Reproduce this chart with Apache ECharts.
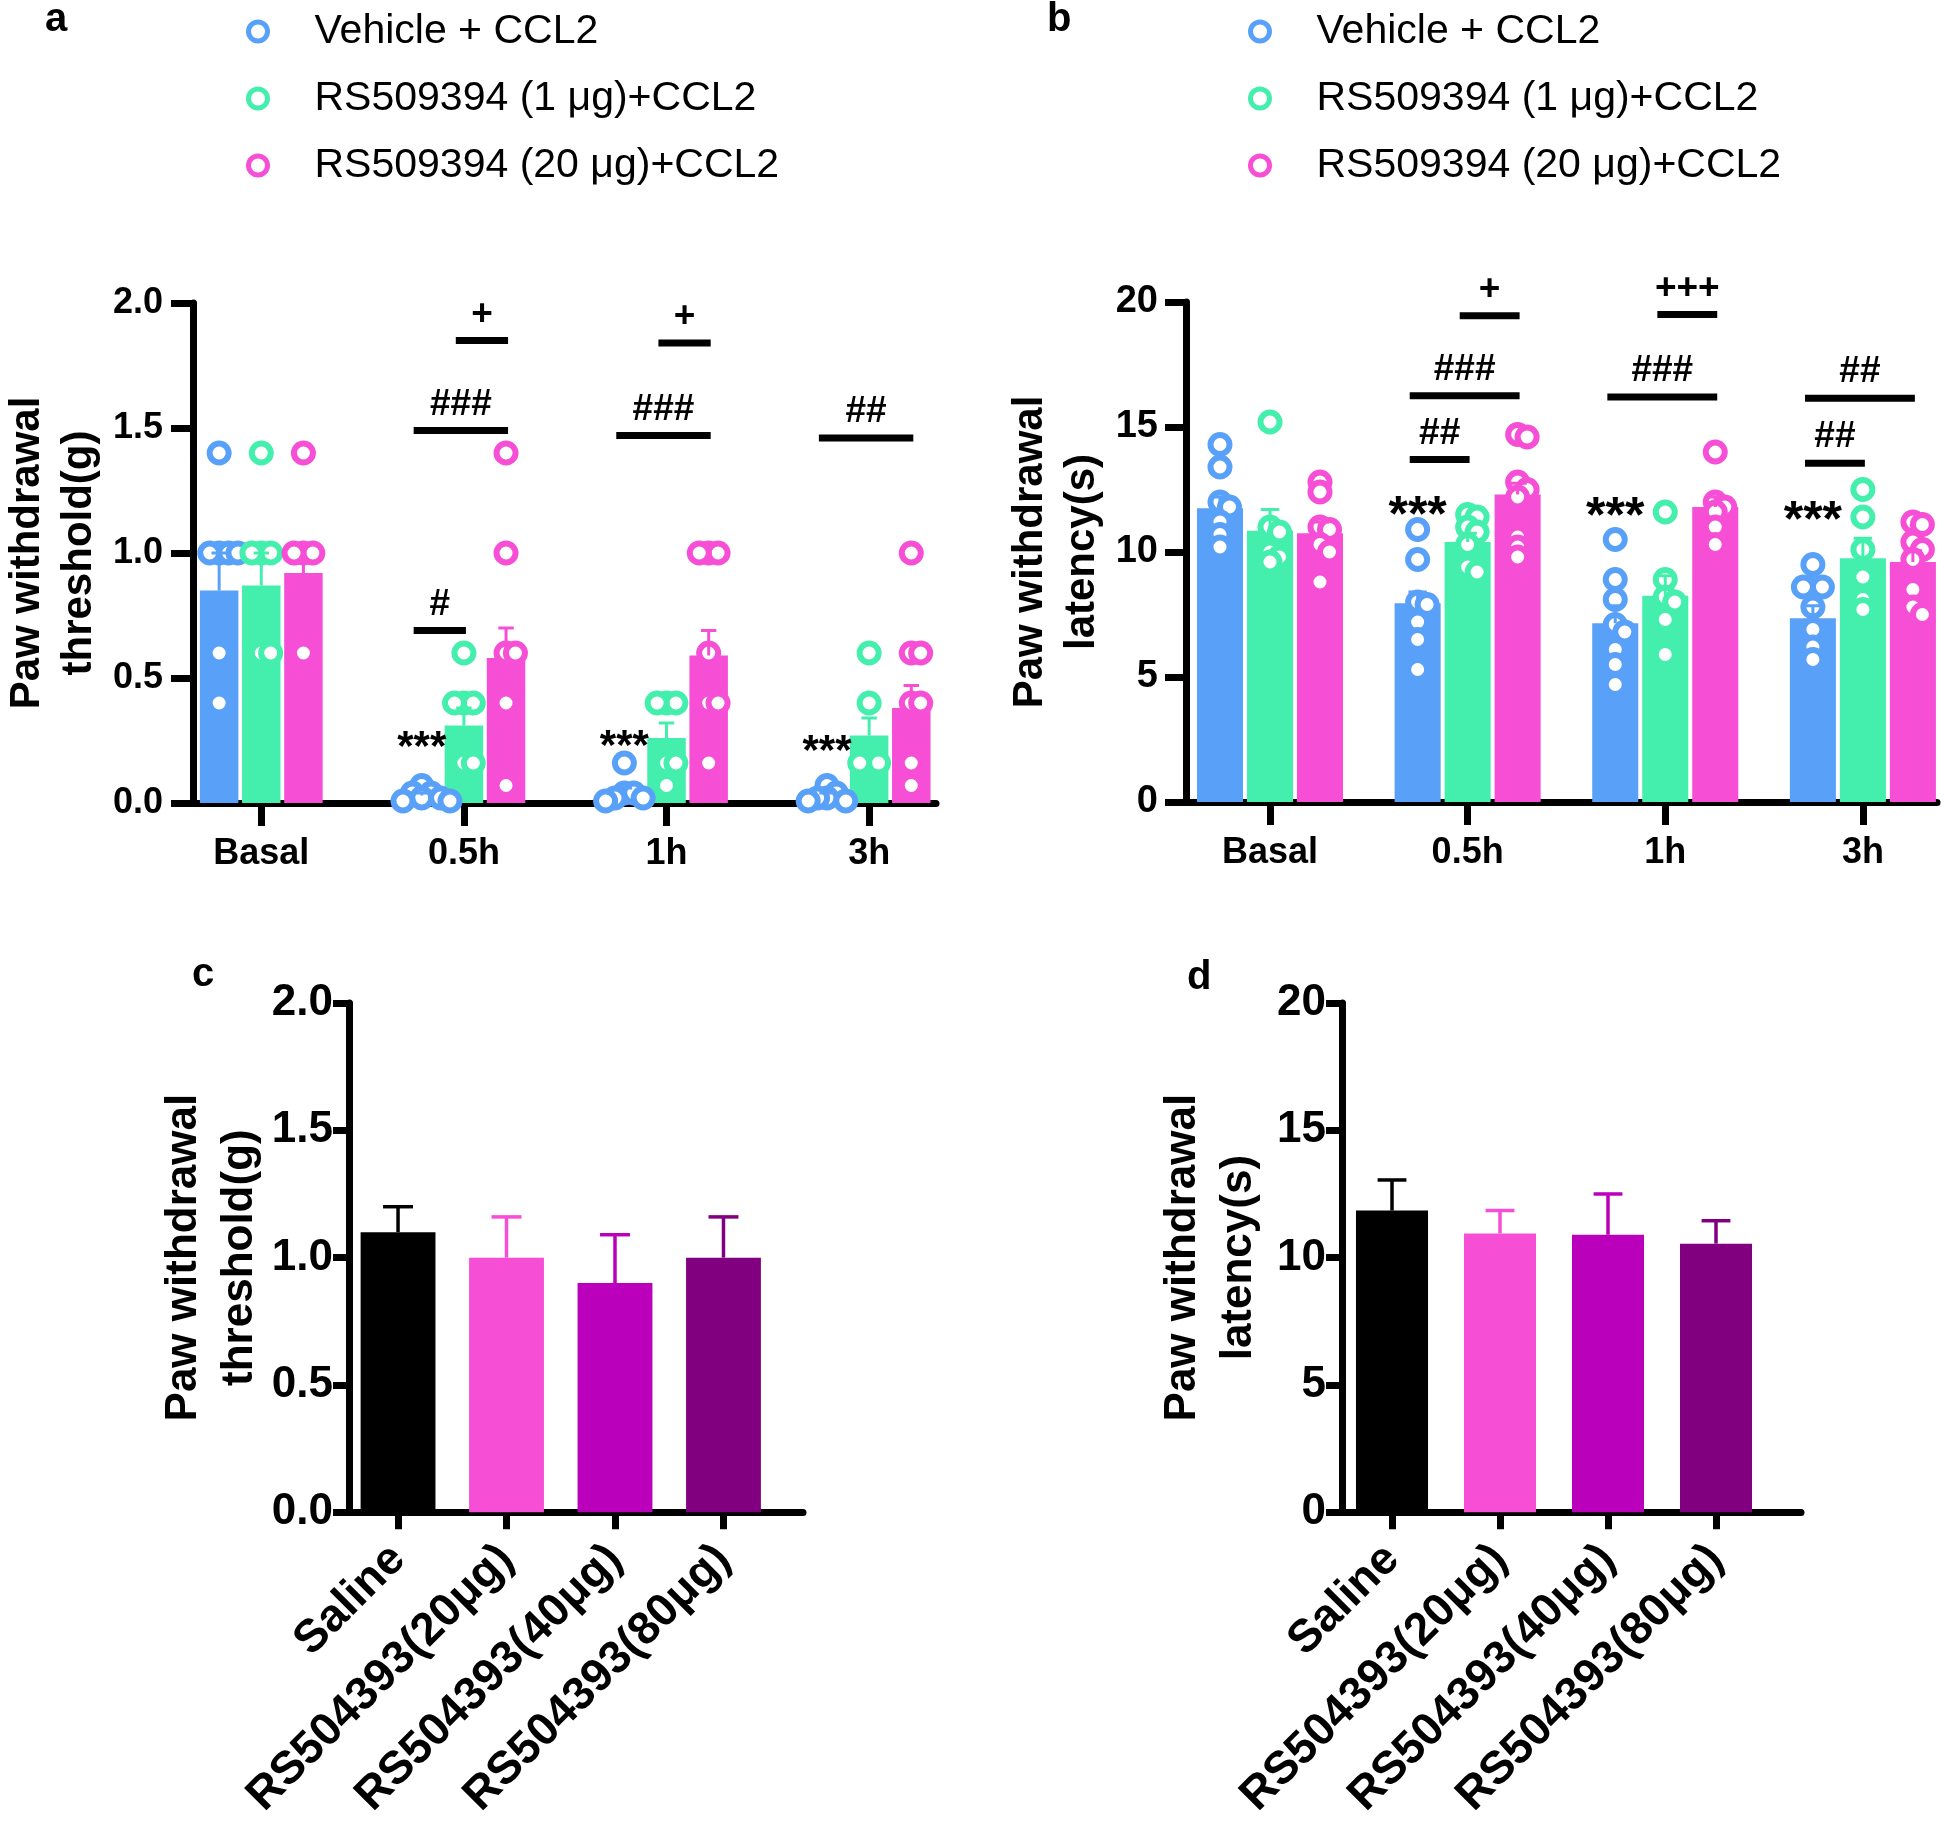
<!DOCTYPE html>
<html><head><meta charset="utf-8">
<script src="https://cdn.jsdelivr.net/npm/echarts@6/dist/echarts.min.js"></script>
<style>html,body{margin:0;padding:0;background:#fff}#c{width:1952px;height:1822px}</style>
</head><body><div id="c"></div>
<script>
// ---------- categories / names ----------
const timeCats = ['Basal', '0.5h', '1h', '3h'];
const groupNames = ['Vehicle + CCL2', 'RS509394 (1 μg)+CCL2', 'RS509394 (20 μg)+CCL2'];
const groupColors = ['#59A1F8', '#44EFAD', '#F64FD5'];
const doseCats = ['Saline', 'RS504393(20μg)', 'RS504393(40μg)', 'RS504393(80μg)'];
const doseColors = ['#000000', '#F64FD5', '#BB00BB', '#800080'];

// ---------- panel a : threshold (g) ----------
const aVehMean  = [0.85, 0.03, 0.04, 0.03];
const aVehSem   = [0.15, 0.01, 0.02, 0.01];
const aLowMean  = [0.87, 0.31, 0.26, 0.27];
const aLowSem   = [0.13, 0.07, 0.06, 0.07];
const aHighMean = [0.92, 0.58, 0.59, 0.38];
const aHighSem  = [0.04, 0.12, 0.10, 0.09];
const aVehPts  = [[1.4, 1.0, 1.0, 1.0, 1.0, 0.6, 0.4], [0.07, 0.04, 0.04, 0.02, 0.02, 0.008, 0.008], [0.16, 0.04, 0.04, 0.02, 0.02, 0.008], [0.07, 0.04, 0.02, 0.02, 0.008, 0.008]];
const aLowPts  = [[1.4, 1.0, 1.0, 1.0, 0.6, 0.6], [0.6, 0.4, 0.4, 0.4, 0.16, 0.16], [0.4, 0.4, 0.4, 0.16, 0.16, 0.07], [0.6, 0.4, 0.16, 0.16, 0.16]];
const aHighPts = [[1.4, 1.0, 1.0, 1.0, 0.6], [1.4, 1.0, 0.6, 0.6, 0.4, 0.07], [1.0, 1.0, 1.0, 0.6, 0.4, 0.4, 0.16], [1.0, 0.6, 0.6, 0.4, 0.4, 0.16, 0.07]];
// [category, from group, to group, y]
const aBrackets = [[1, 0, 1, 0.69], [1, 0, 2, 1.49], [1, 1, 2, 1.85], [2, 0, 2, 1.47], [2, 1, 2, 1.84], [3, 0, 2, 1.46]];
const aBracketLabels = ['#', '###', '+', '###', '+', '##'];
const aStars = [[1, 0.265], [2, 0.27], [3, 0.25]];

// ---------- panel b : latency (s) ----------
const bVehMean  = [11.75, 7.95, 7.15, 7.35];
const bVehSem   = [0.45, 0.45, 0.7, 0.5];
const bLowMean  = [10.85, 10.4, 8.25, 9.75];
const bLowSem   = [0.85, 0.35, 0.8, 0.8];
const bHighMean = [10.75, 12.3, 11.8, 9.6];
const bHighSem  = [0.45, 0.45, 0.4, 0.45];
const bVehPts  = [[14.3, 13.4, 12.0, 11.8, 11.2, 10.7, 10.2], [10.9, 9.7, 8.0, 7.9, 7.2, 6.5, 5.3], [10.5, 8.9, 8.1, 7.1, 6.8, 6.1, 5.5, 4.7], [9.5, 8.6, 8.6, 8.6, 7.8, 6.9, 6.2, 5.7]];
const bLowPts  = [[15.2, 11.0, 10.8, 10.0, 9.8, 9.6], [11.5, 11.4, 11.0, 10.8, 10.3, 9.4, 9.2], [11.6, 8.9, 8.2, 8.0, 7.3, 5.9], [12.5, 11.4, 10.1, 9.0, 8.1, 7.7]];
const bHighPts = [[12.8, 12.4, 11.0, 10.9, 10.3, 10.0, 8.8], [14.7, 14.6, 12.8, 12.5, 12.2, 10.6, 10.2, 9.8], [14.0, 12.0, 11.8, 11.6, 11.0, 10.3], [11.2, 11.1, 10.4, 10.1, 9.7, 8.5, 7.8, 7.5]];
const bBrackets = [[1, 0, 1, 13.7], [1, 0, 2, 16.25], [1, 1, 2, 19.45], [2, 0, 2, 16.2], [2, 1, 2, 19.5], [3, 0, 1, 13.55], [3, 0, 2, 16.15]];
const bBracketLabels = ['##', '###', '+', '###', '+++', '##', '##'];
const bStars = [[1, 11.95], [2, 11.9], [3, 11.75]];

// ---------- panels c / d ----------
const cMean = [1.1, 1.0, 0.9, 1.0];
const cSem  = [0.1, 0.16, 0.19, 0.16];
const dMean = [11.85, 10.95, 10.9, 10.55];
const dSem  = [1.2, 0.9, 1.6, 0.9];

// ---------- layout ----------
const FONT = '"Liberation Sans", Arial, sans-serif';
const grids = [
  {left: 185, top: 303, width: 751, height: 500},
  {left: 1186, top: 302, width: 751, height: 500},
  {left: 349, top: 1003, width: 454, height: 513},
  {left: 1342, top: 1003, width: 459, height: 513}
];
const xRanges = [[-0.337, 3.33], [-0.425, 3.375], [-0.452, 3.733], [-0.463, 3.787]];
const yRanges = [[0, 2, 0.5], [0, 20, 5], [0, 2, 0.5], [0, 20, 5]];
const barStep = [0.208, 0.253];   // distance between grouped bars (category units)
const barW = [0.19, 0.233, 0.69, 0.667];

function pxPerX(i) { return grids[i].width / (xRanges[i][1] - xRanges[i][0]); }
function pxPerY(i) { return grids[i].height / (yRanges[i][1] - yRanges[i][0]); }

// beeswarm-like horizontal spreading of overlapping points (layout only)
function swarm(vals, gi, diam) {
  const placed = [];
  const sx = pxPerX(gi), sy = pxPerY(gi);
  const step = diam * 0.38;
  return vals.map(v => {
    const py = v * sy;
    for (let k = 0; k < 40; k++) {
      const cands = k === 0 ? [0] : [k * step, -k * step];
      for (const dx of cands) {
        if (placed.every(p => Math.hypot(p[0] - dx, p[1] - py) >= diam * 0.38)) {
          placed.push([dx, py]);
          return dx / sx;
        }
      }
    }
    return 0;
  });
}

const series = [];

function barRender(offset, width, colorFn) {
  return function (params, api) {
    const x = api.value(0) + offset, m = api.value(1);
    const a = api.coord([x - width / 2, m]);
    const b = api.coord([x + width / 2, 0]);
    return {type: 'rect', shape: {x: a[0], y: a[1], width: b[0] - a[0], height: b[1] - a[1]},
      style: {fill: colorFn(params.dataIndex)}};
  };
}
function errRender(offset, capW, colorFn, lw) {
  return function (params, api) {
    const x = api.value(0) + offset, m = api.value(1), s = api.value(2);
    const p0 = api.coord([x, m]);
    const p1 = api.coord([x, m + s]);
    const cl = api.coord([x - capW / 2, m + s]);
    const cr = api.coord([x + capW / 2, m + s]);
    const st = {stroke: colorFn(params.dataIndex), lineWidth: lw};
    return {type: 'group', children: [
      {type: 'line', shape: {x1: p0[0], y1: p0[1], x2: p1[0], y2: p1[1]}, style: st},
      {type: 'line', shape: {x1: cl[0], y1: cl[1], x2: cr[0], y2: cr[1]}, style: st}
    ]};
  };
}

function groupedPanel(gi, means, sems, pts, size, bw) {
  for (let g = 0; g < 3; g++) {
    const off = (g - 1) * barStep[gi];
    const col = groupColors[g];
    series.push({type: 'custom', xAxisIndex: gi, yAxisIndex: gi, z: 1, silent: true,
      data: means[g].map((m, i) => [i, m]),
      renderItem: barRender(off, barW[gi], () => col)});
    const data = [];
    pts[g].forEach((vals, ci) => {
      const dx = swarm(vals, gi, size + bw);
      vals.forEach((v, k) => data.push([ci + off + dx[k], v]));
    });
    series.push({type: 'scatter', name: groupNames[g], xAxisIndex: gi, yAxisIndex: gi, z: 2, silent: true,
      symbol: 'circle', symbolSize: size, data,
      itemStyle: {color: '#ffffff', borderColor: col, borderWidth: bw, opacity: 1}});
    series.push({type: 'custom', xAxisIndex: gi, yAxisIndex: gi, z: 3, silent: true,
      data: means[g].map((m, i) => [i, m, sems[g][i]]),
      renderItem: errRender(off, barW[gi] * 0.4, () => col, 3)});
  }
}

function annotations(gi, brackets, labels, stars, fontSize, starSize) {
  const bs = barStep[gi];
  series.push({type: 'custom', xAxisIndex: gi, yAxisIndex: gi, z: 5, silent: true,
    data: brackets,
    renderItem: function (params, api) {
      const c = api.value(0), f = api.value(1), t = api.value(2), y = api.value(3);
      const p1 = api.coord([c + (f - 1) * bs - 0.04, y]);
      const p2 = api.coord([c + (t - 1) * bs + 0.01, y]);
      return {type: 'group', children: [
        {type: 'rect', shape: {x: p1[0], y: p1[1] - 3.5, width: p2[0] - p1[0], height: 7}, style: {fill: '#000'}},
        {type: 'text', x: (p1[0] + p2[0]) / 2, y: p1[1] - 26,
          style: {text: labels[params.dataIndex], fill: '#000', fontSize, fontWeight: 'bold', fontFamily: FONT,
            align: 'center', verticalAlign: 'middle', textAlign: 'center', textVerticalAlign: 'middle'}}
      ]};
    }});
  series.push({type: 'custom', xAxisIndex: gi, yAxisIndex: gi, z: 5, silent: true,
    data: stars,
    renderItem: function (params, api) {
      const p = api.coord([api.value(0) - bs, api.value(1)]);
      return {type: 'text', x: p[0], y: p[1] + starSize * 0.28,
        style: {text: '***', fill: '#000', fontSize: starSize, fontWeight: 'bold', fontFamily: FONT,
          align: 'center', verticalAlign: 'middle', textAlign: 'center', textVerticalAlign: 'middle'}};
    }});
}

function simplePanel(gi, means, sems) {
  series.push({type: 'custom', xAxisIndex: gi, yAxisIndex: gi, z: 1, silent: true,
    data: means.map((m, i) => [i, m]),
    renderItem: barRender(0, barW[gi], i => doseColors[i])});
  series.push({type: 'custom', xAxisIndex: gi, yAxisIndex: gi, z: 3, silent: true,
    data: means.map((m, i) => [i, m, sems[i]]),
    renderItem: errRender(0, barW[gi] * 0.4, i => doseColors[i], 3.5)});
}

groupedPanel(0, [aVehMean, aLowMean, aHighMean], [aVehSem, aLowSem, aHighSem], [aVehPts, aLowPts, aHighPts], 19, 6);
groupedPanel(1, [bVehMean, bLowMean, bHighMean], [bVehSem, bLowSem, bHighSem], [bVehPts, bLowPts, bHighPts], 19, 6);
annotations(0, aBrackets, aBracketLabels, aStars, 37, 42);
annotations(1, bBrackets, bBracketLabels, bStars, 37, 50);
simplePanel(2, cMean, cSem);
simplePanel(3, dMean, dSem);

const yNames = ['Paw withdrawal\nthreshold(g)', 'Paw withdrawal\nlatency(s)', 'Paw withdrawal\nthreshold(g)', 'Paw withdrawal\nlatency(s)'];
const nameGaps = [88, 78, 81, 75];
const nameFS = [42, 42, 44, 44];
const nameLH = [52, 52, 56, 56];
const tickFS = [36, 38, 44, 44];
const tickLen = [22, 21, 16, 16];
const tickMargin = [30, 28, 16, 16];
const axisLW = 7;

const xAxis = grids.map((g, i) => ({
  type: 'value', gridIndex: i, min: xRanges[i][0], max: xRanges[i][1],
  splitLine: {show: false},
  axisLine: {show: true, onZero: false, lineStyle: {color: '#000', width: axisLW}},
  axisTick: {show: true, customValues: [0, 1, 2, 3], length: i < 2 ? 23 : 17, lineStyle: {color: '#000', width: axisLW}},
  axisLabel: i < 2 ? {
    customValues: [0, 1, 2, 3], formatter: v => timeCats[Math.round(v)], margin: 33,
    fontSize: 36, fontWeight: 'bold', fontFamily: FONT, color: '#000'
  } : {
    customValues: [0, 1, 2, 3], formatter: v => doseCats[Math.round(v)], margin: 40, rotate: 45,
    padding: [28, 0, 0, 0],
    fontSize: 46, fontWeight: 'bold', fontFamily: FONT, color: '#000'
  }
}));
const yAxis = grids.map((g, i) => ({
  type: 'value', gridIndex: i, min: yRanges[i][0], max: yRanges[i][1], interval: yRanges[i][2],
  splitLine: {show: false},
  axisLine: {show: true, onZero: false, lineStyle: {color: '#000', width: axisLW}},
  axisTick: {show: true, length: tickLen[i], lineStyle: {color: '#000', width: axisLW}},
  axisLabel: {margin: tickMargin[i], fontSize: tickFS[i], fontWeight: 'bold', fontFamily: FONT, color: '#000',
    formatter: v => (yRanges[i][1] === 2 ? v.toFixed(1) : String(v))},
  name: yNames[i], nameLocation: 'middle', nameRotate: 90, nameGap: nameGaps[i],
  nameTextStyle: {fontSize: nameFS[i], fontWeight: 'bold', fontFamily: FONT, color: '#000', lineHeight: nameLH[i], align: 'center'}
}));

const legendItems = groupNames.map((n, g) => ({name: n, icon: 'circle',
  itemStyle: {color: '#ffffff', borderColor: groupColors[g], borderWidth: 5}}));
const legendCommon = {orient: 'vertical', top: 6, itemWidth: 19, itemHeight: 19, itemGap: 26, selectedMode: false,
  data: legendItems, formatter: n => '{g|}' + n,
  textStyle: {fontSize: 41, fontFamily: FONT, color: '#000', lineHeight: 41, rich: {g: {width: 42}}}};

const option = {
  animation: false,
  backgroundColor: '#fff',
  grid: grids.map(g => Object.assign({}, g)),
  xAxis, yAxis, series,
  legend: [Object.assign({left: 241}, legendCommon), Object.assign({left: 1243}, legendCommon)],
  graphic: [
    {type: 'text', left: 45, top: 0, style: {text: 'a', font: 'bold 40px ' + FONT, fill: '#000'}},
    {type: 'text', left: 1047, top: 0, style: {text: 'b', font: 'bold 40px ' + FONT, fill: '#000'}},
    {type: 'text', left: 192, top: 955, style: {text: 'c', font: 'bold 40px ' + FONT, fill: '#000'}},
    {type: 'text', left: 1187, top: 958, style: {text: 'd', font: 'bold 40px ' + FONT, fill: '#000'}}
  ]
};
const chart = echarts.init(document.getElementById('c'), null, {renderer: 'canvas'});
chart.setOption(option);
</script></body></html>
